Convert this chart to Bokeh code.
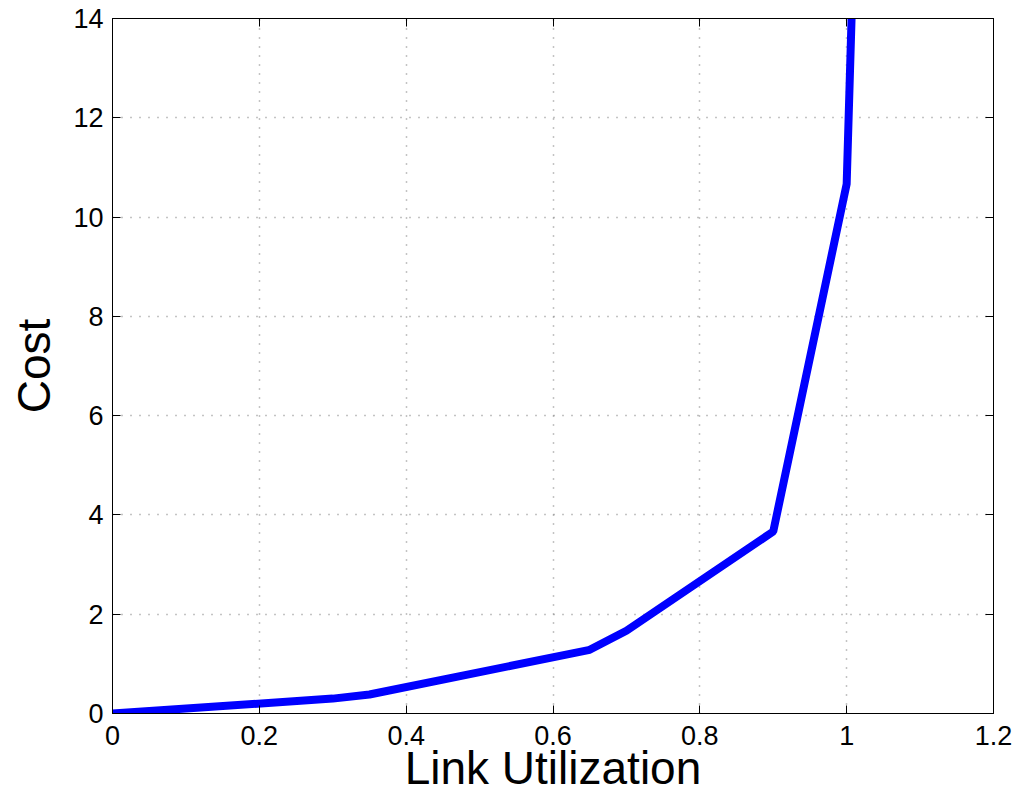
from bokeh.plotting import figure
from bokeh.models import Range1d, LinearAxis, FixedTicker, CustomJSTickFormatter
from bokeh.embed import file_html
from bokeh.resources import INLINE

# Data (piecewise-linear link cost)
utilization = [0.0, 0.30, 0.35, 0.65, 0.70, 0.90, 1.00, 1.01]
cost = [0.0, 0.30, 0.383, 1.283, 1.667, 3.667, 10.667, 15.667]

x_ticks = [0, 0.2, 0.4, 0.6, 0.8, 1.0, 1.2]
x_tick_labels = {0: "0", 0.2: "0.2", 0.4: "0.4", 0.6: "0.6", 0.8: "0.8", 1: "1", 1.2: "1.2"}
y_ticks = [0, 2, 4, 6, 8, 10, 12, 14]
x_title = "Link Utilization"
y_title = "Cost"

FONT = "Liberation Sans"

p = figure(width=1017, height=796, output_backend="svg", toolbar_location=None,
           x_range=Range1d(0, 1.2), y_range=Range1d(0, 14),
           min_border_left=112, min_border_right=24, min_border_top=18, min_border_bottom=83)

p.line(utilization, cost, line_color="#0000ff", line_width=8)

p.outline_line_color = "black"
p.outline_line_width = 1

for ax in p.xaxis:
    ax.ticker = FixedTicker(ticks=x_ticks)
    ax.major_label_overrides = x_tick_labels
    ax.axis_label = x_title
for ax in p.yaxis:
    ax.ticker = FixedTicker(ticks=y_ticks)
    ax.axis_label = y_title

for ax in p.xaxis + p.yaxis:
    ax.major_tick_in = 8
    ax.major_tick_out = 0
    ax.minor_tick_in = 0
    ax.minor_tick_out = 0
    ax.axis_line_color = "black"
    ax.major_tick_line_color = "black"
    ax.major_label_text_font = FONT
    ax.major_label_text_font_size = "27px"
    ax.major_label_text_color = "black"
    ax.major_label_text_line_height = 0.8
    ax.axis_label_text_font = FONT
    ax.axis_label_text_font_size = "46px"
    ax.axis_label_text_font_style = "normal"
    ax.axis_label_text_color = "black"
    ax.axis_label_text_line_height = 0.7

p.xaxis.major_label_standoff = 12
p.xaxis.axis_label_standoff = -6
p.yaxis.major_label_standoff = 9
p.yaxis.axis_label_standoff = 10

# Box axes on top and right (ticks only)
blank = CustomJSTickFormatter(code="return ''")
top = LinearAxis(ticker=FixedTicker(ticks=x_ticks), formatter=blank,
                 major_tick_in=8, major_tick_out=0, minor_tick_in=0, minor_tick_out=0,
                 axis_line_color="black", major_label_standoff=0)
right = LinearAxis(ticker=FixedTicker(ticks=y_ticks), formatter=blank,
                   major_tick_in=8, major_tick_out=0, minor_tick_in=0, minor_tick_out=0,
                   axis_line_color="black", major_label_standoff=0)
p.add_layout(top, "above")
p.add_layout(right, "right")

p.xgrid.ticker = FixedTicker(ticks=x_ticks)
p.ygrid.ticker = FixedTicker(ticks=y_ticks)
for g in (p.xgrid, p.ygrid):
    g.grid_line_color = "#888888"
    g.grid_line_dash = "1 8"
    g.grid_line_width = 1.5

open("out.html", "w").write(file_html(p, INLINE))
